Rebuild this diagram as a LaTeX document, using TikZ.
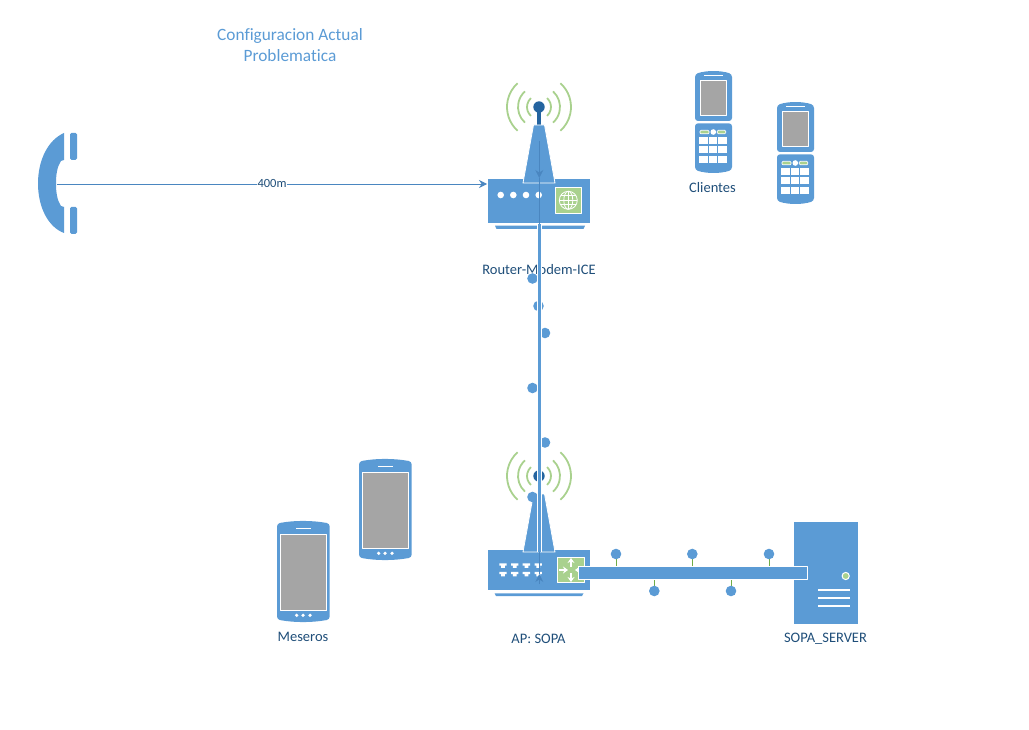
\documentclass[tikz,border=0pt]{standalone}
\usepackage{fontspec}
\setmainfont{Carlito}[Ligatures=NoCommon]
\usetikzlibrary{arrows.meta}
\definecolor{devblue}{HTML}{5B9BD5}
\definecolor{devdark}{HTML}{2464A0}
\definecolor{devgreen}{HTML}{A9D18E}
\definecolor{pingreen}{HTML}{70AD47}
\definecolor{devgray}{HTML}{A5A5A5}
\definecolor{txtblue}{HTML}{1F4E79}
\definecolor{linkblue}{HTML}{4A86C0}
\tikzset{
	devlabel/.style={text=txtblue,font=\fontsize{14.5}{16}\selectfont,inner sep=0pt},
	titlelabel/.style={text=devblue,font=\fontsize{17.3}{21}\selectfont,align=center,inner sep=0pt},
	wire/.style={draw=linkblue,line width=0.8pt},
	wifi/.pic={
		\foreach \r in {12,21,32}{
			\draw[devgreen,line width=1.8pt] (0,0)++(-48:\r) arc[start angle=-48,end angle=48,radius=\r];
			\draw[devgreen,line width=1.8pt] (0,0)++(132:\r) arc[start angle=132,end angle=228,radius=\r];
		}
		\draw[devdark,line width=3.2pt] (0,0)--(0,18);
		\fill[devdark] (0,0) circle[radius=5.7];
		\filldraw[fill=devblue,draw=white,line width=0.8pt] (-5.5,18)--(5.5,18)--(16,76)--(-16,76)--cycle;
	},
	flipphone/.pic={
		\fill[devblue,rounded corners=3] (0,3) .. controls (12,-0.7) and (25,-0.7) .. (37,3)--(37,50)--(0,50)--cycle;
		\fill[devblue,rounded corners=3] (0,52.3)--(37,52.3)--(37,99) .. controls (25,102.7) and (12,102.7) .. (0,99)--cycle;
		\filldraw[fill=devgray,draw=white,line width=0.8pt] (5,9) rectangle (31.7,44);
		\draw[white,line width=1pt] (9.3,5)--(27.7,5);
		\filldraw[fill=devgreen,draw=white,line width=0.7pt,rounded corners=1] (5,59.3) rectangle (14,62.8);
		\filldraw[fill=devgreen,draw=white,line width=0.7pt,rounded corners=1] (22.3,59.3) rectangle (30.7,62.8);
		\fill[white] (18.3,61) circle[radius=2.8];
		\foreach \cx in {4.3,13.7,23.3}
			\foreach \cy in {66.3,75.5,84.7}
				\fill[white] (\cx,\cy) rectangle ++(8.2,7);
	},
	smartphone/.pic={
		\fill[devblue,rounded corners=3] (0,2.5) .. controls (17,-0.7) and (35,-0.7) .. (52.7,2.5)--(52.7,98.5) .. controls (35,101.7) and (17,101.7) .. (0,98.5)--cycle;
		\filldraw[fill=devgray,draw=white,line width=0.8pt] (3.3,13.3) rectangle (49.7,89.7);
		\draw[white,line width=0.8pt] (19,7.3)--(34,7.3);
		\foreach \cx in {19.7,26,33}
			\fill[white] (\cx,94.3) circle[radius=1.8];
	}
}
\begin{document}
\begin{tikzpicture}[x=1pt,y=-1pt,line join=round,>={Stealth[length=8pt,width=8pt]}]
	\useasboundingbox (0,0) rectangle (1029,730);
	\coordinate (phoneport) at (57,184);
	\coordinate (routerport) at (487,184);
	\coordinate (routerbot) at (539.3,224);
	\coordinate (apTop) at (539.3,552);
	\coordinate (routertip) at (539.3,178);
	\coordinate (routertail) at (539.3,141);
	\coordinate (aptip) at (539.3,574);
	\coordinate (aptail) at (539.3,584);
	\coordinate (busstart) at (578.7,566.7);
	\coordinate (busend) at (807.5,579.3);
	% titulo
	\node[titlelabel] (title) at (290,45) {Configuracion Actual\\Problematica};
	% telefono
	\fill[devblue] (64,133) .. controls (48,140) and (38,160) .. (38,183.5) .. controls (38,207) and (48,227) .. (64,233)
		--(64,207)--(61,206) .. controls (57,200) and (56,192) .. (56,183.5) .. controls (56,175) and (57,167) .. (61,161)--(64,160)--cycle;
	\fill[devblue,rounded corners=1.5] (70,133) rectangle (77,160);
	\fill[devblue,rounded corners=1.5] (70,207) rectangle (77,234);
	% router
	\fill[devblue] (488,179) rectangle (590,223);
	\fill[devblue] (495,225.7)--(585,225.7)--(583.5,229)--(496.5,229)--cycle;
	\pic at (539,107) {wifi};
	\foreach \x in {500.7,513.3,526,538.7}
		\fill[white] (\x,195) circle[radius=3.3];
	\filldraw[fill=devgreen,draw=white,line width=0.9pt] (555,187.3) rectangle (581.7,213.3);
	\begin{scope}[white,line width=0.8pt,shift={(568.3,200.3)}]
		\draw (0,0) circle[radius=9];
		\draw (0,0) ellipse[x radius=4.5,y radius=9];
		\draw (0,-9)--(0,9) (-9,0)--(9,0) (-7.8,-4.5)--(7.8,-4.5) (-7.8,4.5)--(7.8,4.5);
	\end{scope}
	\node[devlabel] (routerlabel) at (539,270) {Router-Modem-ICE};
	% AP
	\fill[devblue] (488,550) rectangle (590,590);
	\fill[devblue] (494.5,593.3)--(583.5,593.3)--(582,596)--(496,596)--cycle;
	\pic at (539,476) {wifi};
	\foreach \x in {499.3,511,522.7,534.5}
		\foreach \y in {563.3,571.8}{
			\fill[white] (\x,\y)--++(7.4,0)--++(0,2.2)--++(-1.8,0)--++(0,2.3)--++(-3.8,0)--++(0,-2.3)--++(-1.8,0)--cycle;
		}
	\filldraw[fill=devgreen,draw=white,line width=0.9pt] (557,557.3) rectangle (584.7,582.7);
	\begin{scope}[white,line width=1.3pt,>={Stealth[length=5pt,width=7pt]}]
		\draw[->] (571,567)--(571,558);
		\draw[->] (571,573)--(571,582);
		\draw[->] (559,570)--(568,570);
		\draw[->] (580,570)--(575,570);
	\end{scope}
	\node[devlabel] (aplabel) at (538.5,638.5) {AP: SOPA};
	% enlace vertical
	\foreach \x/\y in {532.5/278.5,538.5/306,545/333,532.5/388,545/442.5,532.5/497}
		\fill[devblue] (\x,\y) circle[radius=5.3];
	\draw[white,line width=4.6pt] (routerbot)--(apTop);
	\draw[devblue,line width=2.8pt] (routerbot)--(apTop);
	\draw[wire,->] (routertail)--(routertip);
	\draw[wire] (routertip)--(routerbot);
	\draw[wire] (apTop)--(aptip);
	\draw[wire,->] (aptail)--(aptip);
	% servidor
	\fill[devblue] (794,522) rectangle (858,624);
	\filldraw[fill=devgreen,draw=white,line width=1pt] (845.7,576) circle[radius=3.6];
	\foreach \y in {590.3,598.3,606}
		\draw[white,line width=1.8pt] (818.3,\y)--(850.3,\y);
	\node[devlabel] (serverlabel) at (825.5,638.5) {SOPA\_SERVER};
	% bus horizontal
	\foreach \x in {616,692.3,769}{
		\draw[pingreen,line width=0.9pt] (\x,554)--(\x,566.7);
		\fill[devblue] (\x,554) circle[radius=5.3];
	}
	\foreach \x in {654.3,731}{
		\draw[pingreen,line width=0.9pt] (\x,579.3)--(\x,591);
		\fill[devblue] (\x,591) circle[radius=5.3];
	}
	\filldraw[fill=devblue,draw=white,line width=0.9pt] (busstart) rectangle (busend);
	% clientes
	\pic at (695,71) {flipphone};
	\pic at (777,102) {flipphone};
	\node[devlabel] (clientes) at (712.5,187.5) {Clientes};
	% meseros
	\pic at (277,521) {smartphone};
	\pic at (359,459) {smartphone};
	\node[devlabel] (meseros) at (303,636.5) {Meseros};
	% enlace telefono
	\draw[wire,->] (phoneport)--node[fill=white,inner sep=0.5pt,yshift=1pt,text=txtblue,font=\fontsize{12.5}{14}\selectfont] (dist) {400m} (routerport);
\end{tikzpicture}
\end{document}
